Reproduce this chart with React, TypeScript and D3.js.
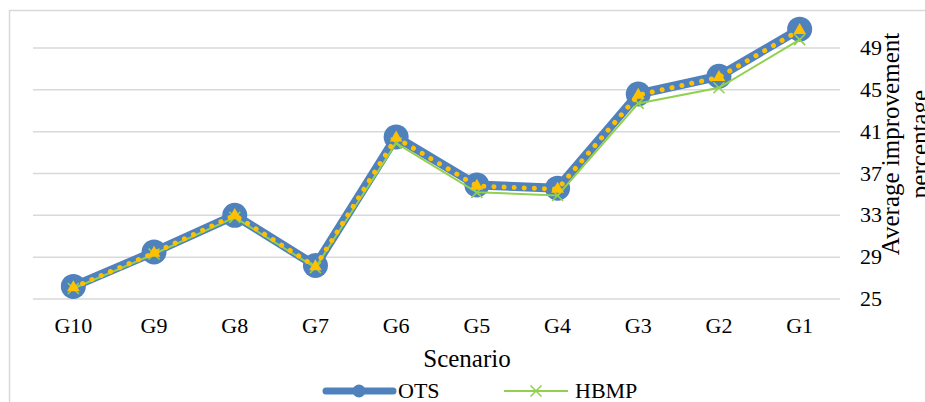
import * as d3 from "d3";

const scenarios = ["G10", "G9", "G8", "G7", "G6", "G5", "G4", "G3", "G2", "G1"];
const otsValues = [26.2, 29.5, 33.0, 28.2, 40.5, 35.9, 35.6, 44.6, 46.3, 50.8];
const hbmpValues = [26.0, 29.3, 32.8, 28.0, 39.9, 35.2, 34.9, 43.7, 45.2, 49.8];
const thirdValues = [26.1, 29.4, 33.0, 28.1, 40.4, 35.8, 35.5, 44.5, 46.2, 50.7];
const yTicks = [25, 29, 33, 37, 41, 45, 49];

const W = 925;
const H = 402;
const FONT = "'Liberation Serif', 'Times New Roman', serif";
const BLUE = "#4f81bd";
const GREEN = "#92d050";
const YELLOW = "#ffc000";
const GRID = "#d9d9d9";

export default function App() {
  const x = d3.scaleBand().domain(scenarios).range([33, 840]);
  const y = d3.scaleLinear().domain([25, 49]).range([299, 48]);
  const cx = (d: string) => (x(d) || 0) + x.bandwidth() / 2;

  const line = d3
    .line<number>()
    .x((_, i) => cx(scenarios[i]))
    .y((v) => y(v));

  const tri = d3.symbol(d3.symbolTriangle, 70)() || "";

  return (
    <svg
      width={W}
      height={H}
      style={{ position: "absolute", left: 0, top: 0, background: "#fff" }}
      fontFamily={FONT}
    >
      {/* chart frame, cropped on the right and bottom */}
      <rect x={9.5} y={10.5} width={1000} height={600} fill="none" stroke={GRID} strokeWidth={1.5} />

      {/* grid */}
      {yTicks.map((t) => (
        <line key={t} x1={33} x2={840} y1={y(t)} y2={y(t)} stroke={GRID} strokeWidth={1.5} />
      ))}

      {/* OTS */}
      <path d={line(otsValues) || ""} fill="none" stroke={BLUE} strokeWidth={9} strokeLinejoin="round" />
      {otsValues.map((v, i) => (
        <circle key={i} cx={cx(scenarios[i])} cy={y(v)} r={12.5} fill={BLUE} />
      ))}

      {/* HBMP */}
      <path d={line(hbmpValues) || ""} fill="none" stroke={GREEN} strokeWidth={2} />
      {hbmpValues.map((v, i) => (
        <g key={i} transform={`translate(${cx(scenarios[i])},${y(v)})`} stroke={GREEN} strokeWidth={1.6}>
          <line x1={-5.5} y1={-5.5} x2={5.5} y2={5.5} />
          <line x1={-5.5} y1={5.5} x2={5.5} y2={-5.5} />
        </g>
      ))}

      {/* third series (dotted) */}
      <path
        d={line(thirdValues) || ""}
        fill="none"
        stroke={YELLOW}
        strokeWidth={5}
        strokeLinecap="round"
        strokeDasharray="0.1 10"
      />
      {thirdValues.map((v, i) => (
        <path key={i} d={tri} transform={`translate(${cx(scenarios[i])},${y(v)})`} fill={YELLOW} />
      ))}

      {/* x tick labels */}
      {scenarios.map((s) => (
        <text key={s} x={cx(s)} y={333} textAnchor="middle" fontSize={22}>
          {s}
        </text>
      ))}

      {/* y tick labels on the right */}
      {yTicks.map((t) => (
        <text key={t} x={860} y={y(t) + 7} fontSize={22}>
          {t}
        </text>
      ))}

      {/* axis titles */}
      <text x={467} y={367} textAnchor="middle" fontSize={25}>
        Scenario
      </text>
      <text transform="translate(899,144) rotate(-90)" textAnchor="middle" fontSize={25}>
        <tspan x={0} dy={0}>Average improvement</tspan>
        <tspan x={0} dy={29}>percentage</tspan>
      </text>

      {/* legend */}
      <g>
        <line x1={326} x2={393} y1={391} y2={391} stroke={BLUE} strokeWidth={7} strokeLinecap="round" />
        <circle cx={359} cy={391} r={6.5} fill={BLUE} />
        <text x={398} y={398} fontSize={22}>
          OTS
        </text>
        <line x1={504} x2={568} y1={391} y2={391} stroke={GREEN} strokeWidth={2} />
        <g transform="translate(536,391)" stroke={GREEN} strokeWidth={1.6}>
          <line x1={-5.5} y1={-5.5} x2={5.5} y2={5.5} />
          <line x1={-5.5} y1={5.5} x2={5.5} y2={-5.5} />
        </g>
        <text x={575} y={398} fontSize={22}>
          HBMP
        </text>
      </g>
    </svg>
  );
}
